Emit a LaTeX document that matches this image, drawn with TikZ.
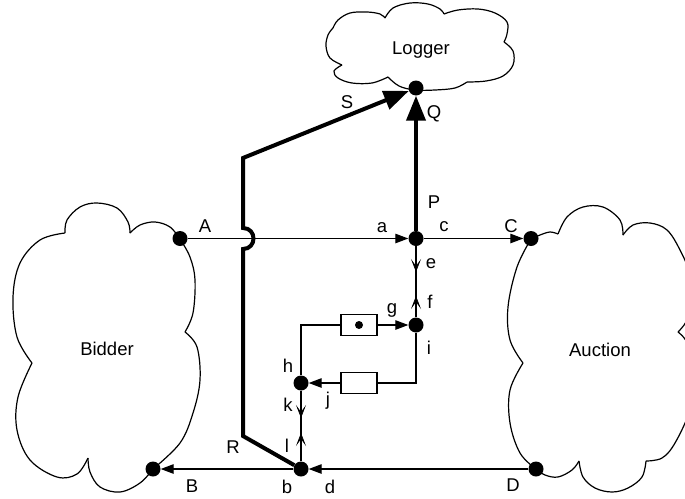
\documentclass[tikz,border=0pt]{standalone}
\usepackage{fontspec}
\setmainfont{Liberation Sans}
\usetikzlibrary{arrows.meta}
\begin{document}
\begin{tikzpicture}[x=1pt,y=-1pt,
  font=\fontsize{18.5}{22}\selectfont,
  dot/.style={circle,fill=black,inner sep=0pt,minimum size=15pt},
  smalldot/.style={circle,fill=black,inner sep=0pt,minimum size=8pt},
  thinline/.style={line width=1.2pt},
  thickline/.style={line width=4pt},
  tri/.style={thinline,-{Triangle[length=13pt,width=9.5pt]}},
  bigtri/.style={thickline,-{Triangle[length=25pt,width=19pt]}},
  barb/.style={thinline,-{Stealth[length=13pt,width=10pt,inset=7pt,line width=0.6pt]}},
  cloudline/.style={line width=1.2pt},
  lbl/.style={inner sep=0pt},
  box/.style={draw,line width=1.2pt,minimum width=36pt,minimum height=21.5pt,inner sep=0pt}]
\useasboundingbox (0,0) rectangle (685,498);
\clip (0,0) rectangle (685,498);

% ---------- clouds ----------
% Logger
\draw[cloudline] plot[smooth,tension=0.6] coordinates {(333,28) (338,20) (350,13) (367,12) (380,14) (385,18)};
\draw[cloudline] plot[smooth,tension=0.6] coordinates {(385,18) (393,8) (410,3) (428,4) (440,9) (444,14)};
\draw[cloudline] plot[smooth,tension=0.6] coordinates {(444,14) (458,10) (478,9) (495,13) (507,22) (507,34) (504,42)};
\draw[cloudline] plot[smooth,tension=0.6] coordinates {(504,42) (513,51) (513,65) (503,76) (486,81) (467,82)};
\draw[cloudline] plot[smooth,tension=0.6] coordinates {(467,82) (455,88) (435,90) (415,90) (399,86) (388,77)};
\draw[cloudline] plot[smooth,tension=0.6] coordinates {(388,77) (372,83) (352,83) (338,78) (334,71) (342,65)};
\draw[cloudline] plot[smooth,tension=0.6] coordinates {(342,65) (330,58) (326,46) (328,35) (333,28)};
% Bidder
\draw[cloudline] plot[smooth,tension=0.6] coordinates {(65,233) (67,220) (80,207) (97,203) (117,208) (128,222) (130,233)};
\draw[cloudline] plot[smooth,tension=0.6] coordinates {(130,233) (140,225) (155,222) (170,227) (180,239)};
\draw[cloudline] plot[smooth,tension=0.6] coordinates {(180,239) (190,257) (195,280) (193,313) (185,332)};
\draw[cloudline] plot[smooth,tension=0.6] coordinates {(185,332) (197,347) (200,380) (193,413) (180,443) (153,469)};
\draw[cloudline] plot[smooth,tension=0.6] coordinates {(153,469) (140,483) (120,492) (100,487) (90,472) (88,458)};
\draw[cloudline] plot[smooth,tension=0.6] coordinates {(88,458) (77,474) (57,477) (30,460) (17,430) (18,397) (32,363)};
\draw[cloudline] plot[smooth,tension=0.6] coordinates {(32,363) (17,337) (13,297) (20,263) (40,240) (65,233)};
% Auction
\draw[cloudline] plot[smooth,tension=0.6] coordinates {(523,363) (510,340) (508,307) (517,267) (531,239)};
\draw[cloudline] plot[smooth,tension=0.6] coordinates {(531,239) (540,235) (550,232) (558,234)};
\draw[cloudline] plot[smooth,tension=0.6] coordinates {(558,234) (567,217) (583,207) (603,207) (620,220) (623,235)};
\draw[cloudline] plot[smooth,tension=0.6] coordinates {(623,235) (633,225) (650,223) (667,230) (680,250) (690,275) (692,305) (686,322) (678,332)};
\draw[cloudline] plot[smooth,tension=0.6] coordinates {(678,332) (688,345) (694,380) (690,410) (675,443) (662,458) (646,461)};
\draw[cloudline] plot[smooth,tension=0.6] coordinates {(646,461) (642,477) (628,488) (612,492) (595,488) (583,477) (579,461)};
\draw[cloudline] plot[smooth,tension=0.6] coordinates {(579,461) (572,470) (558,477) (545,475) (536,469)};
\draw[cloudline] plot[smooth,tension=0.6] coordinates {(536,469) (520,453) (510,423) (510,390) (523,363)};

\node[anchor=base] (logger) at (421,54) {Logger};
\node[anchor=base] (bidder) at (107,355) {Bidder};
\node[anchor=base] (auction) at (600,356) {Auction};

% ---------- dots ----------
\node[dot] (Qd) at (416,88) {};
\node[dot] (ad) at (416,238.5) {};
\node[dot] (Ad) at (180,238.5) {};
\node[dot] (Cd) at (531,238.5) {};
\node[dot] (id) at (416,325) {};
\node[dot] (hd) at (301,383) {};
\node[dot] (bd) at (301,469) {};
\node[dot] (Bd) at (153,469) {};
\node[dot] (Dd) at (536,469) {};

% ---------- boxes ----------
\node[box] (box1) at (359,325) {};
\node[smalldot] (box1dot) at (359,325) {};
\node[box] (box2) at (359,383) {};

% ---------- connectors ----------
\draw[tri] (Ad) -- (ad);
\draw[tri] (ad) -- (Cd);
\draw[bigtri] (ad) -- (Qd);
\draw[thinline] (ad) -- (id);
\coordinate (etip) at (416,272);
\coordinate (ftip) at (416,296);
\draw[barb] (ad) -- (etip);
\draw[barb] (id) -- (ftip);
\draw[thinline] (hd) |- (box1.west);
\draw[tri] (box1.east) -- (id);
\draw[thinline] (id) |- (box2.east);
\draw[tri] (box2.west) -- (hd);
\draw[thinline] (hd) -- (bd);
\coordinate (ktip) at (301,418);
\coordinate (ltip) at (301,433);
\draw[barb] (hd) -- (ktip);
\draw[barb] (bd) -- (ltip);
\draw[tri] (Dd) -- (bd);
\draw[tri] (bd) -- (Bd);

\coordinate (Rc) at (243,436);
\coordinate (jb2) at (243,249);
\coordinate (jb1) at (243,228);
\coordinate (Sc) at (243,158);
\draw[bigtri,line join=miter] (bd) -- (Rc) -- (jb2) .. controls (257,249) and (257,228) .. (jb1) -- (Sc) -- (Qd);

% ---------- labels ----------
\node[lbl] (lS) at (347,102) {S};
\node[lbl] (lQ) at (434,114) {Q};
\node[lbl] (lP) at (434,202) {P};
\node[lbl] (la) at (382,228) {a};
\node[lbl] (lc) at (444,227) {c};
\node[lbl] (le) at (431,264) {e};
\node[lbl] (lf) at (430,302) {f};
\node[lbl] (lg) at (392,310) {g};
\node[lbl] (li) at (429,348) {i};
\node[lbl] (lh) at (288,366) {h};
\node[lbl] (lj) at (328,401) {j};
\node[lbl] (lk) at (288,405) {k};
\node[lbl] (ll) at (287,446) {l};
\node[lbl] (lb) at (287,487) {b};
\node[lbl] (ld) at (330,487) {d};
\node[lbl] (lR) at (233,447) {R};
\node[lbl] (lA) at (205,226) {A};
\node[lbl] (lB) at (192,486) {B};
\node[lbl] (lC) at (511,226) {C};
\node[lbl] (lD) at (513,485) {D};
\end{tikzpicture}
\end{document}
